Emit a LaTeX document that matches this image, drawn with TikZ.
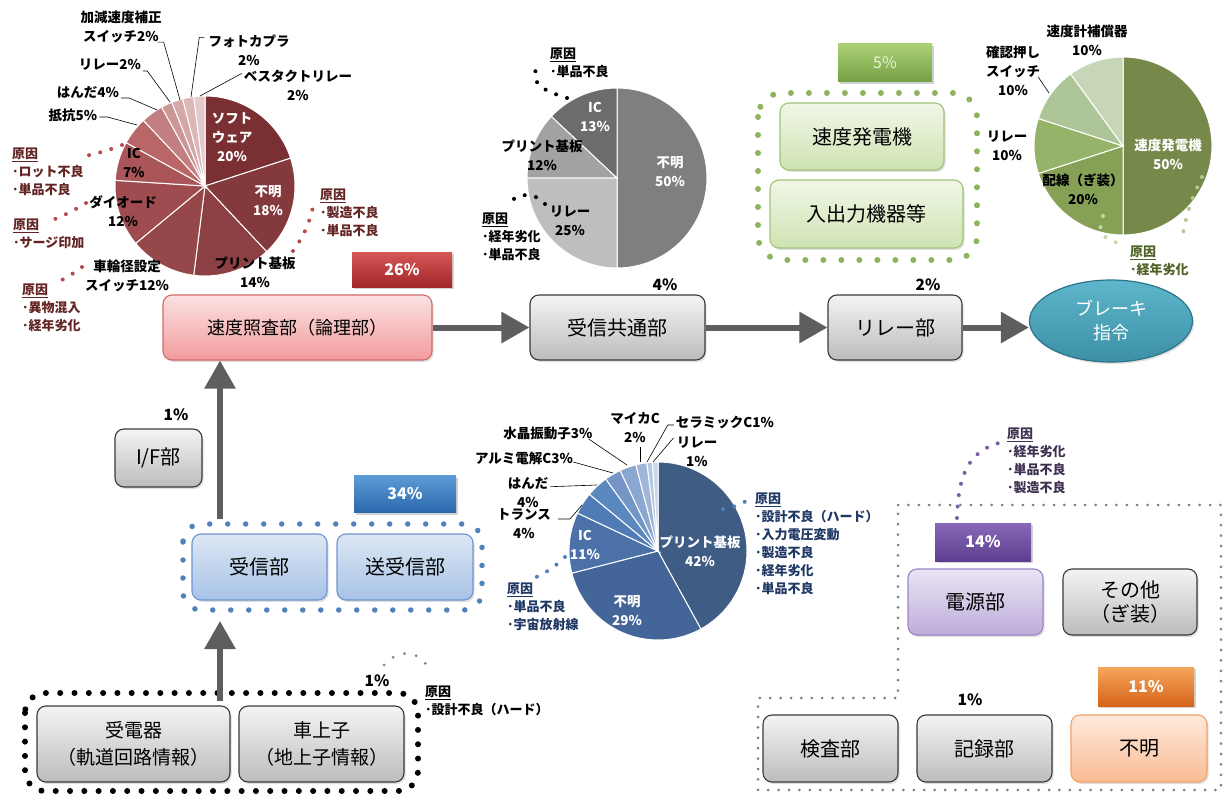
\documentclass[tikz,border=0pt]{standalone}
\usepackage{fontspec}
\setmainfont{Noto Sans CJK JP}
\usetikzlibrary{arrows.meta,shapes.geometric,shadows}
% pie colours
\definecolor{r1}{HTML}{7A2F33}\definecolor{r2}{HTML}{843A3D}\definecolor{r3}{HTML}{8D4044}
\definecolor{r4}{HTML}{95474A}\definecolor{r5}{HTML}{9E4C4F}\definecolor{r6}{HTML}{AA5558}
\definecolor{r7}{HTML}{B86668}\definecolor{r8}{HTML}{C27E80}\definecolor{r9}{HTML}{CC9596}
\definecolor{r10}{HTML}{D4A8A9}\definecolor{r11}{HTML}{DBB7B8}\definecolor{r12}{HTML}{E3C9CA}
\definecolor{g1}{HTML}{7F7F82}\definecolor{g2}{HTML}{BEBEC0}\definecolor{g3}{HTML}{A2A2A5}\definecolor{g4}{HTML}{6C6C6F}
\definecolor{v1}{HTML}{76894A}\definecolor{v2}{HTML}{86A056}\definecolor{v3}{HTML}{96B36A}
\definecolor{v4}{HTML}{AEC597}\definecolor{v5}{HTML}{C6D6B7}
\definecolor{b1}{HTML}{3E5C84}\definecolor{b2}{HTML}{436598}\definecolor{b3}{HTML}{4B71A8}
\definecolor{b4}{HTML}{507CB5}\definecolor{b5}{HTML}{5B87BF}\definecolor{b6}{HTML}{7495C5}
\definecolor{b7}{HTML}{8AA7CF}\definecolor{b8}{HTML}{A0B6D8}\definecolor{b9}{HTML}{B6C7E1}\definecolor{b10}{HTML}{CAD6EA}
% box colours
\definecolor{gtop}{HTML}{F4F4F4}\definecolor{gbot}{HTML}{BCBCBE}\definecolor{gedge}{HTML}{3A3A3A}
\definecolor{ptop}{HTML}{FBE1E1}\definecolor{pbot}{HTML}{F29B9D}\definecolor{pedge}{HTML}{D06A6C}
\definecolor{btop}{HTML}{DDE7F4}\definecolor{bbot}{HTML}{A7C2E7}\definecolor{bedge}{HTML}{6E95CF}
\definecolor{vtop}{HTML}{F0F7E7}\definecolor{vbot}{HTML}{CFE3B2}\definecolor{vedge}{HTML}{A3C27A}
\definecolor{utop}{HTML}{EAE4F4}\definecolor{ubot}{HTML}{BDADDA}\definecolor{uedge}{HTML}{9C84C6}
\definecolor{otop}{HTML}{FEE9DC}\definecolor{obot}{HTML}{F9BC93}\definecolor{oedge}{HTML}{F4A066}
\definecolor{arrowgray}{HTML}{5E5E60}
\definecolor{redtxt}{HTML}{632523}\definecolor{reddot}{HTML}{B9494B}
\definecolor{greentxt}{HTML}{4F6228}\definecolor{greendot}{HTML}{8DB35D}
\definecolor{bluetxt}{HTML}{1F3864}\definecolor{bluedot}{HTML}{4F81BD}
\definecolor{purptxt}{HTML}{3F3151}\definecolor{purpdot}{HTML}{7B5FA3}
\definecolor{graydot}{HTML}{7F7F7F}
\definecolor{teal1}{HTML}{5DB6CB}\definecolor{teal2}{HTML}{3D90A6}\definecolor{tealedge}{HTML}{2C7489}
\definecolor{k5top}{HTML}{AAD074}\definecolor{k5bot}{HTML}{76A044}\definecolor{k5txt}{HTML}{E8F3DA}
\definecolor{k26top}{HTML}{D65656}\definecolor{k26bot}{HTML}{A02628}
\definecolor{k34top}{HTML}{5C9CD6}\definecolor{k34bot}{HTML}{2C68AE}
\definecolor{k14top}{HTML}{8869B8}\definecolor{k14bot}{HTML}{5E3E8E}
\definecolor{k11top}{HTML}{F6A65C}\definecolor{k11bot}{HTML}{D6641A}

\newcommand{\drawpie}[4]{%
  \gdef\piecum{0}%
  \foreach \pv/\pc in {#4}{%
    \pgfmathsetmacro\pa{-90+3.6*\piecum}%
    \pgfmathsetmacro\pb{-90+3.6*(\piecum+\pv)}%
    \fill[\pc,draw=white,line width=1pt] (#1,#2) -- ++(\pa:#3) arc[start angle=\pa,end angle=\pb,radius=#3] -- cycle;%
    \pgfmathsetmacro\pn{\piecum+\pv}%
    \xdef\piecum{\pn}%
  }%
}

\begin{document}
\begin{tikzpicture}[x=1pt,y=1pt,yscale=-1,
  box/.style={rounded corners=9pt,line width=1.1pt,align=center,inner sep=2pt,
    font=\fontsize{20}{26}\selectfont,
    drop shadow={opacity=0.25,shadow xshift=1.5pt,shadow yshift=-2pt}},
  graybox/.style={box,draw=gedge,top color=gtop,bottom color=gbot},
  pinkbox/.style={box,draw=pedge,top color=ptop,bottom color=pbot},
  bluebox/.style={box,draw=bedge,top color=btop,bottom color=bbot},
  greenbox/.style={box,draw=vedge,top color=vtop,bottom color=vbot},
  purpbox/.style={box,draw=uedge,top color=utop,bottom color=ubot},
  orangebox/.style={box,draw=oedge,top color=otop,bottom color=obot},
  pct/.style={rectangle,inner sep=0pt,text=white,font=\bfseries\fontsize{16}{18}\selectfont,
    drop shadow={opacity=0.35,shadow xshift=1.5pt,shadow yshift=-2pt}},
  plabel/.style={font=\bfseries\fontsize{15.5}{18}\selectfont,inner sep=0pt},
  lbl/.style={font=\bfseries\fontsize{13.5}{19}\selectfont,align=center,inner sep=0pt},
  cause/.style={font=\bfseries\fontsize{13}{18}\selectfont,align=left,inner sep=0pt,anchor=north west},
  leader/.style={draw=black,line width=0.6pt},
  bigarrow/.style={draw=arrowgray,line width=6pt,-{Triangle[length=28pt,width=30pt]}},
  cdots/.style={line width=4pt,line cap=round,dash pattern=on 0pt off 11.5pt},
]
\useasboundingbox (0,0) rectangle (1223,794);

% ================= RED PIE =================
\drawpie{205}{186}{90}{20/r1,18/r2,14/r3,12/r4,12/r5,7/r6,5/r7,4/r8,2/r9,2/r10,2/r11,2/r12}
\node[lbl,text=white] (rsoft) at (232,137) {ソフト\\ウェア\\20\%};
\node[lbl,text=white] (rfumei) at (268,201) {不明\\18\%};
\node[lbl] (rpcb) at (255,272) {プリント基板\\14\%};
\node[lbl] (rwheel) at (127,276) {車輪径設定\\スイッチ12\%};
\node[lbl] (rdiode) at (123,211) {ダイオード\\12\%};
\node[lbl] (ric) at (134,163) {IC\\7\%};
\node[lbl] (rres) at (73,115) {抵抗5\%};
\node[lbl] (rsold) at (88,92) {はんだ4\%};
\node[lbl] (rrelay) at (110,65) {リレー2\%};
\node[lbl] (rkagen) at (121,27) {加減速度補正\\スイッチ2\%};
\node[lbl] (rphoto) at (249,50) {フォトカプラ\\2\%};
\node[lbl] (rvest) at (298,85) {ベスタクトリレー\\2\%};
\coordinate (pres) at (137,125);
\coordinate (psold) at (157,110);
\coordinate (prelay) at (170,102);
\coordinate (pkagen) at (180,100);
\coordinate (pphoto) at (191,97);
\coordinate (pvest) at (200,96);
\draw[leader] (rres.east) ++(2,2) -- ++(8,0) -- (pres);
\draw[leader] (rsold.east) ++(2,6) -- ++(8,0) -- (psold);
\draw[leader] (rrelay.east) ++(2,6) -- ++(4,0) -- (prelay);
\draw[leader] (rkagen.south east) ++(-4,-1) -- ++(6,0) -- (pkagen);
\draw[leader] (rphoto.north west) ++(-4,3) -- ++(-5,0) -- (pphoto);
\draw[leader] (rvest.north west) ++(-2,4) -- (pvest);
% red causes
\node[cause,text=redtxt] (rc1) at (12,148) {\underline{原因}\\･ロット不良\\･単品不良};
\node[cause,text=redtxt] (rc2) at (13,219) {\underline{原因}\\･サージ印加};
\node[cause,text=redtxt] (rc3) at (22,284) {\underline{原因}\\･異物混入\\･経年劣化};
\node[cause,text=redtxt] (rc4) at (320,189) {\underline{原因}\\･製造不良\\･単品不良};
\coordinate (rd1a) at (122,145); \coordinate (rd1b) at (80,157);
\coordinate (rd2a) at (86,203); \coordinate (rd2b) at (50,221);
\coordinate (rd3a) at (82,267); \coordinate (rd3b) at (58,282);
\coordinate (rd4a) at (293,251); \coordinate (rd4b) at (314,202);
\draw[cdots,reddot] (rd1a) to[bend right=5] (rd1b);
\draw[cdots,reddot] (rd2a) to[bend right=5] (rd2b);
\draw[cdots,reddot] (rd3a) to[bend right=5] (rd3b);
\draw[cdots,reddot] (rd4a) to[bend left=12] (rd4b);

% ================= GRAY PIE =================
\drawpie{617}{178}{90}{50/g1,25/g2,12/g3,13/g4}
\node[lbl,text=white] (gfumei) at (670,172) {不明\\50\%};
\node[lbl,text=white] (gic) at (595,117) {IC\\13\%};
\node[lbl] (gpcb) at (542,155) {プリント基板\\12\%};
\node[lbl] (grelay) at (570,221) {リレー\\25\%};
\node[cause] (gc1) at (550,48) {\underline{原因}\\･単品不良};
\node[cause] (gc2) at (482,213) {\underline{原因}\\･経年劣化\\･単品不良};
\coordinate (gd1a) at (567,98); \coordinate (gd1b) at (537,67);
\coordinate (gd2a) at (545,204); \coordinate (gd2b) at (508,204);
\draw[cdots,black] (gd1a) .. controls (548,92) and (528,85) .. (gd1b);
\draw[cdots,black] (gd2a) .. controls (535,192) and (518,192) .. (gd2b);

% ================= GREEN =================
\node[pct,minimum width=94pt,minimum height=38pt,top color=k5top,bottom color=k5bot,
  text=k5txt,font=\fontsize{16}{18}\selectfont] (p5) at (885,63) {5\%};
\draw[line width=6pt,line cap=round,dash pattern=on 0pt off 18pt,greendot,rounded corners=24pt]
  (758,93) rectangle (977,260);
\node[greenbox,minimum width=164pt,minimum height=67pt] (gen) at (862,136.5) {速度発電機};
\node[greenbox,minimum width=193pt,minimum height=68pt] (io) at (866.5,214) {入出力機器等};
\drawpie{1123}{146}{89}{50/v1,20/v2,10/v3,10/v4,10/v5}
\node[lbl,text=white] (vgen) at (1168,154) {速度発電機\\50\%};
\node[lbl] (vwire) at (1083,189) {配線（ぎ装）\\20\%};
\node[lbl] (vrelay) at (1007,146) {リレー\\10\%};
\node[lbl] (vconf) at (1013,71) {確認押し\\スイッチ\\10\%};
\node[lbl] (vcomp) at (1087,40) {速度計補償器\\10\%};
\coordinate (pconf) at (1049,93);
\draw[leader] (vconf.east) ++(-2,6) -- (pconf);
\node[cause,text=greentxt] (vc) at (1130,246) {\underline{原因}\\･経年劣化};
\coordinate (vd1a) at (1202,177); \coordinate (vd1b) at (1182,239);
\coordinate (vd2a) at (1103,216); \coordinate (vd2b) at (1118,243);
\draw[cdots,greendot!70] (vd1a) to[bend left=8] (vd1b);
\draw[cdots,greendot!50] (vd2a) .. controls (1096,230) and (1104,240) .. (vd2b);

% ================= MAIN FLOW =================
\node[pct,minimum width=100pt,minimum height=35pt,top color=k26top,bottom color=k26bot] (p26) at (402,270) {26\%};
\node[pinkbox,minimum width=269pt,minimum height=65pt,font=\fontsize{18}{22}\selectfont] (speed) at (297.5,327.5) {速度照査部（論理部）};
\node[graybox,minimum width=175pt,minimum height=65pt] (common) at (617.5,327.5) {受信共通部};
\node[graybox,minimum width=134pt,minimum height=65pt] (relay) at (895,327.5) {リレー部};
\node[ellipse,draw=tealedge,line width=1.2pt,top color=teal1,bottom color=teal2,
  minimum width=163pt,minimum height=82pt,text=white,align=center,
  font=\fontsize{18}{24}\selectfont,drop shadow={opacity=0.25,shadow xshift=1.5pt,shadow yshift=-2pt}] (brake) at (1111,321) {ブレーキ\\指令};
\node[plabel] (pc4) at (665,285) {4\%};
\node[plabel] (pc2) at (928,285) {2\%};
\draw[bigarrow] (speed.east) -- (common.west);
\draw[bigarrow] (common.east) -- (relay.west);
\draw[bigarrow] (relay.east) -- (relay.east -| brake.west);

% ================= BLUE =================
\node[graybox,minimum width=87pt,minimum height=58pt] (if) at (158.5,458) {I/F部};
\node[plabel] (pc1a) at (176,415) {1\%};
\node[pct,minimum width=102pt,minimum height=37pt,top color=k34top,bottom color=k34bot] (p34) at (405,494) {34\%};
\draw[line width=5.5pt,line cap=round,dash pattern=on 0pt off 18pt,bluedot,rounded corners=18pt]
  (183,524) rectangle (482,610);
\node[bluebox,minimum width=135pt,minimum height=66pt] (recv) at (259.5,567) {受信部};
\node[bluebox,minimum width=136pt,minimum height=66pt] (trx) at (405,567) {送受信部};
\coordinate (upA) at (220,519);
\draw[bigarrow] (upA) -- (upA |- speed.south);

\drawpie{658}{551}{89}{42/b1,29/b2,11/b3,4/b4,4/b5,3/b6,3/b7,2/b8,1/b9,1/b10}
\node[lbl,text=white] (bpcb) at (700,551) {プリント基板\\42\%};
\node[lbl,text=white] (bfumei) at (627,611) {不明\\29\%};
\node[lbl,text=white] (bic) at (585,545) {IC\\11\%};
\node[lbl] (btrans) at (524,524) {トランス\\4\%};
\node[lbl] (bsold) at (528,493) {はんだ\\4\%};
\node[lbl] (balu) at (524,458) {アルミ電解C3\%};
\node[lbl] (bxtal) at (548,433) {水晶振動子3\%};
\node[lbl] (bmica) at (635,428) {マイカC\\2\%};
\node[lbl] (bcer) at (725,423) {セラミックC1\%};
\node[lbl] (brel) at (697,452) {リレー\\1\%};
\coordinate (qtrans) at (582,505);
\coordinate (qsold) at (597,485);
\coordinate (qalu) at (613,473);
\coordinate (qxtal) at (627,465);
\coordinate (qmica) at (640,462);
\coordinate (qcer) at (647,462);
\coordinate (qrel) at (653,462);
\coordinate (qtransA) at (558,519);
\draw[leader] (qtransA) -- ++(12,0) -- (qtrans);
\draw[leader] (bsold.north east) ++(2,9) -- (qsold);
\draw[leader] (balu.east) ++(0,4) -- (qalu);
\draw[leader] (bxtal.east) ++(-4,6) -- (qxtal);
\draw[leader] (bmica.south) ++(5,4) -- (qmica);
\draw[leader] (bcer.west) ++(-2,2) -- ++(-6,0) -- (qcer);
\draw[leader] (brel.north west) ++(-3,1) -- (qrel);
\node[cause,text=bluetxt] (bc1) at (755,493) {\underline{原因}\\･設計不良（ハード）\\･入力電圧変動\\･製造不良\\･経年劣化\\･単品不良};
\node[cause,text=bluetxt] (bc2) at (507,583) {\underline{原因}\\･単品不良\\･宇宙放射線};
\coordinate (bd1a) at (723,509); \coordinate (bd1b) at (748,500);
\coordinate (bd2a) at (565,557); \coordinate (bd2b) at (532,579);
\draw[cdots,bluedot] (bd1a) to[bend left=10] (bd1b);
\draw[cdots,bluedot] (bd2a) to[bend right=10] (bd2b);

% ================= BOTTOM LEFT =================
\draw[line width=6pt,line cap=round,dash pattern=on 0pt off 14.3pt,black,rounded corners=20pt]
  (25,693) rectangle (418,791);
\node[graybox,minimum width=193pt,minimum height=76pt,font=\fontsize{19}{27}\selectfont] (rx) at (133.5,744) {受電器\\（軌道回路情報）};
\node[graybox,minimum width=165pt,minimum height=76pt,font=\fontsize{19}{27}\selectfont] (tag) at (321.5,744) {車上子\\（地上子情報）};
\coordinate (upB) at (220,701);
\coordinate (upBend) at (220,621);
\draw[bigarrow] (upB) -- (upBend);
\node[plabel] (pc1b) at (377,681) {1\%};
\node[cause] (kc) at (425,686) {\underline{原因}\\･設計不良（ハード）};
\coordinate (kd1a) at (384,665); \coordinate (kd1b) at (429,670);
\draw[line width=3pt,line cap=round,dash pattern=on 0pt off 12pt,graydot] (kd1a) .. controls (396,650) and (420,648) .. (kd1b);

% ================= BOTTOM RIGHT =================
\draw[line width=3pt,line cap=round,dash pattern=on 0pt off 10.4pt,graydot]
  (898,505) -- (1221,505) -- (1221,790) -- (758,790) -- (758,698) -- (898,698) -- cycle;
\node[pct,minimum width=96pt,minimum height=38pt,top color=k14top,bottom color=k14bot] (p14) at (983,542) {14\%};
\node[purpbox,minimum width=135pt,minimum height=66pt] (psu) at (975.5,602) {電源部};
\node[graybox,minimum width=134pt,minimum height=66pt,font=\fontsize{20}{24}\selectfont] (other) at (1130,602) {その他\\（ぎ装）};
\node[pct,minimum width=96pt,minimum height=39pt,top color=k11top,bottom color=k11bot] (p11) at (1146,686.5) {11\%};
\node[graybox,minimum width=135pt,minimum height=67pt] (insp) at (830.5,748.5) {検査部};
\node[graybox,minimum width=135pt,minimum height=67pt] (rec) at (984.5,748.5) {記録部};
\node[orangebox,minimum width=136pt,minimum height=67pt] (unk) at (1139,748.5) {不明};
\node[plabel] (pc1c) at (970,700) {1\%};
\node[cause,text=purptxt] (uc) at (1007,428) {\underline{原因}\\･経年劣化\\･単品不良\\･製造不良};
\coordinate (ud1a) at (957,518); \coordinate (ud1b) at (999,443);
\draw[cdots,purpdot] (ud1a) .. controls (958,480) and (966,452) .. (ud1b);
\end{tikzpicture}
\end{document}
